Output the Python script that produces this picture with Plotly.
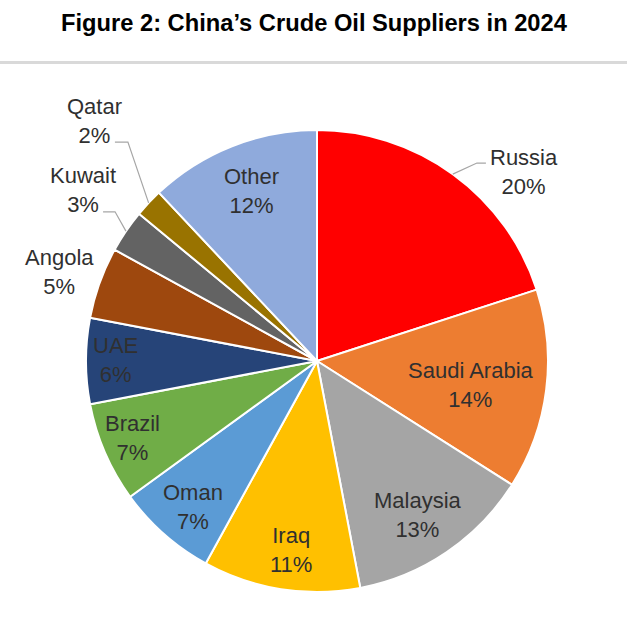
import math
import plotly.graph_objects as go

# ---- data ----
countries = ["Russia", "Saudi Arabia", "Malaysia", "Iraq", "Oman", "Brazil",
             "UAE", "Angola", "Kuwait", "Qatar", "Other"]
shares = [20, 14, 13, 11, 7, 7, 6, 5, 3, 2, 12]
title_text = "Figure 2: China’s Crude Oil Suppliers in 2024"

# ---- style ----
colors = ["#FF0000", "#ED7D31", "#A5A5A5", "#FFC000", "#5B9BD5", "#70AD47",
          "#264478", "#9E480E", "#636363", "#997300", "#8FAADC"]
# label placement: radius factor and angle shift (deg) relative to slice middle
label_r = [1.213, 0.677, 0.797, 0.824, 0.83, 0.864, 0.874, 1.18, 1.255, 1.415, 0.79]
label_dang = [11.6, 1.8, 0.9, -1.15, -1.1, 0.7, 0.3, -0.8, 2.0, 4.0, 0.7]
# leader lines (pixel offsets of elbow and end from label centre)
leaders = {0: ((-47, -9), (-38, -9)), 9: ((33, 21), (20, 21)), 8: ((32, 22), (20, 22))}

W, H = 627, 630
CX, CY, R = 317, 361, 231
TEXT = "#303030"
FONT = "Liberation Sans"

def paper(px, py):
    return px / W, 1 - py / H

fig = go.Figure(go.Pie(
    labels=countries, values=shares, sort=False, direction="clockwise",
    rotation=0, textinfo="none", hoverinfo="label+percent",
    marker=dict(colors=colors, line=dict(color="white", width=2)),
    domain=dict(x=[(CX - R) / W, (CX + R) / W],
                y=[(H - CY - R) / H, (H - CY + R) / H]),
    showlegend=False,
))

total = sum(shares)
annotations = []
shapes = []
cum = 0.0
for i, (name, v) in enumerate(zip(countries, shares)):
    mid = (cum + v / 2) / total * 360.0
    cum += v
    ang = math.radians(mid + label_dang[i])
    lx = CX + label_r[i] * R * math.sin(ang)
    ly = CY - label_r[i] * R * math.cos(ang)
    px_, py_ = paper(lx, ly)
    pct = round(v / total * 100)
    annotations.append(dict(
        x=px_, y=py_, xref="paper", yref="paper", showarrow=False,
        text=f"{name}<br>{pct}%", xanchor="center", yanchor="middle",
        font=dict(family=FONT, size=22, color=TEXT),
    ))
    if i in leaders:
        (ex, ey), (tx, ty) = leaders[i]
        m = math.radians(mid)
        sx = CX + R * math.sin(m)
        sy = CY - R * math.cos(m)
        pts = [(sx, sy), (lx + ex, ly + ey), (lx + tx, ly + ty)]
        path = "M " + " L ".join(f"{paper(a, b)[0]},{paper(a, b)[1]}" for a, b in pts)
        shapes.append(dict(type="path", xref="paper", yref="paper", path=path,
                           line=dict(color="#A6A6A6", width=1.2)))

annotations.append(dict(
    x=0.502, y=1 - 23 / H, xref="paper", yref="paper", showarrow=False,
    text="<b>" + title_text + "</b>", xanchor="center", yanchor="middle",
    font=dict(family=FONT, size=23.7, color="#000000"),
))
shapes.append(dict(type="line", xref="paper", yref="paper",
                   x0=0, x1=1, y0=1 - 62.5 / H, y1=1 - 62.5 / H,
                   line=dict(color="#D9D9D9", width=3)))

fig.update_layout(
    width=W, height=H, margin=dict(l=0, r=0, t=0, b=0),
    paper_bgcolor="white", plot_bgcolor="white",
    annotations=annotations, shapes=shapes,
)
fig.write_html("out.html", config={"displayModeBar": False},
               post_script="document.body.style.margin='0';document.body.style.overflow='hidden';")
